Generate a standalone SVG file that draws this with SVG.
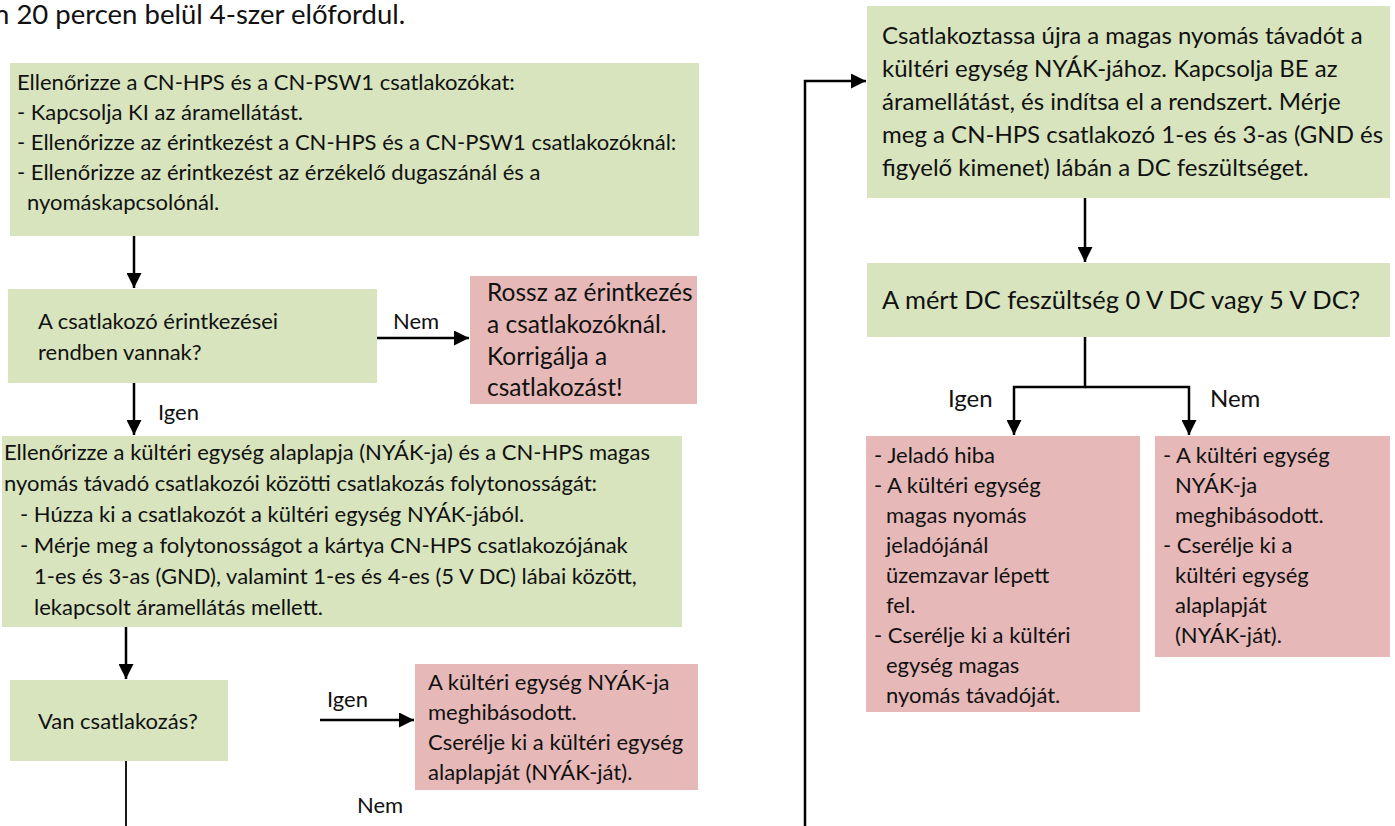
<svg xmlns="http://www.w3.org/2000/svg" width="1395" height="826" viewBox="0 0 1395 826">
  <defs>
    <style>
      .ok { fill: #D7E4BD; }
      .bad { fill: #E6B9B8; }
      text { font-family: Lato, "Liberation Sans", sans-serif; fill: #111; }
      .s { font-size: 22px; }
      .m { font-size: 22px; }
      .r { font-size: 24.5px; }
      .big { font-size: 24px; }
      .q { font-size: 25.5px; }
      .head { font-size: 27.5px; }
      .wire { fill: none; stroke: #000; stroke-width: 2.5; }
      .thin { fill: none; stroke: #000; stroke-width: 1.8; }
    </style>
    <marker id="head" viewBox="0 0 10 10" refX="10" refY="5" markerWidth="6" markerHeight="6" markerUnits="strokeWidth" orient="auto">
      <path d="M0,0 L10,5 L0,10 z" fill="#000"/>
    </marker>
  </defs>

  <rect width="1395" height="826" fill="#fff"/>

  <!-- tail of the preceding paragraph, clipped at the left page edge -->
  <text class="head" x="-6" y="24">n 20 percen belül 4-szer előfordul.</text>

  <g id="check-connectors">
    <rect class="ok" x="10" y="63" width="689" height="173"/>
    <text class="s" x="17" y="90">Ellenőrizze a CN-HPS és a CN-PSW1 csatlakozókat:</text>
    <text class="s" x="17" y="120">- Kapcsolja KI az áramellátást.</text>
    <text class="s" x="17" y="150">- Ellenőrizze az érintkezést a CN-HPS és a CN-PSW1 csatlakozóknál:</text>
    <text class="s" x="17" y="180">- Ellenőrizze az érintkezést az érzékelő dugaszánál és a</text>
    <text class="s" x="27" y="210">nyomáskapcsolónál.</text>
  </g>

  <g id="contacts-ok">
    <rect class="ok" x="8" y="289" width="369" height="94"/>
    <text class="m" x="38" y="329">A csatlakozó érintkezései</text>
    <text class="m" x="38" y="360">rendben vannak?</text>
  </g>

  <g id="bad-contact">
    <rect class="bad" x="470" y="276" width="227" height="128"/>
    <text class="r" x="487" y="301">Rossz az érintkezés</text>
    <text class="r" x="487" y="333">a csatlakozóknál.</text>
    <text class="r" x="487" y="365">Korrigálja a</text>
    <text class="r" x="487" y="396">csatlakozást!</text>
  </g>

  <g id="check-continuity">
    <rect class="ok" x="2" y="436" width="680" height="191"/>
    <text class="s" x="4" y="460">Ellenőrizze a kültéri egység alaplapja (NYÁK-ja) és a CN-HPS magas</text>
    <text class="s" x="4" y="491">nyomás távadó csatlakozói közötti csatlakozás folytonosságát:</text>
    <text class="s" x="20" y="522">- Húzza ki a csatlakozót a kültéri egység NYÁK-jából.</text>
    <text class="s" x="20" y="553">- Mérje meg a folytonosságot a kártya CN-HPS csatlakozójának</text>
    <text class="s" x="34" y="584">1-es és 3-as (GND), valamint 1-es és 4-es (5 V DC) lábai között,</text>
    <text class="s" x="34" y="615">lekapcsolt áramellátás mellett.</text>
  </g>

  <g id="continuity">
    <rect class="ok" x="10" y="680" width="218" height="81"/>
    <text class="m" x="38" y="729">Van csatlakozás?</text>
  </g>

  <g id="pcb-fault">
    <rect class="bad" x="415" y="664" width="283" height="126"/>
    <text class="m" x="428" y="690">A kültéri egység NYÁK-ja</text>
    <text class="m" x="428" y="720">meghibásodott.</text>
    <text class="m" x="428" y="750">Cserélje ki a kültéri egység</text>
    <text class="m" x="428" y="780">alaplapját (NYÁK-ját).</text>
  </g>

  <g id="measure-voltage">
    <rect class="ok" x="867" y="6" width="523" height="192"/>
    <text class="big" x="882" y="44">Csatlakoztassa újra a magas nyomás távadót a</text>
    <text class="big" x="882" y="77">kültéri egység NYÁK-jához. Kapcsolja BE az</text>
    <text class="big" x="882" y="110">áramellátást, és indítsa el a rendszert. Mérje</text>
    <text class="big" x="882" y="143">meg a CN-HPS csatlakozó 1-es és 3-as (GND és</text>
    <text class="big" x="882" y="176">figyelő kimenet) lábán a DC feszültséget.</text>
  </g>

  <g id="voltage-question">
    <rect class="ok" x="867" y="263" width="523" height="74"/>
    <text class="q" x="882" y="309">A mért DC feszültség 0 V DC vagy 5 V DC?</text>
  </g>

  <g id="sensor-fault">
    <rect class="bad" x="866" y="436" width="274" height="276"/>
    <text class="s" x="874" y="463">- Jeladó hiba</text>
    <text class="s" x="874" y="493">- A kültéri egység</text>
    <text class="s" x="886" y="523">magas nyomás</text>
    <text class="s" x="886" y="553">jeladójánál</text>
    <text class="s" x="886" y="583">üzemzavar lépett</text>
    <text class="s" x="886" y="613">fel.</text>
    <text class="s" x="874" y="643">- Cserélje ki a kültéri</text>
    <text class="s" x="886" y="673">egység magas</text>
    <text class="s" x="886" y="703">nyomás távadóját.</text>
  </g>

  <g id="board-fault">
    <rect class="bad" x="1155" y="436" width="235" height="221"/>
    <text class="s" x="1163" y="463">- A kültéri egység</text>
    <text class="s" x="1175" y="493">NYÁK-ja</text>
    <text class="s" x="1175" y="523">meghibásodott.</text>
    <text class="s" x="1163" y="553">- Cserélje ki a</text>
    <text class="s" x="1175" y="583">kültéri egység</text>
    <text class="s" x="1175" y="613">alaplapját</text>
    <text class="s" x="1175" y="643">(NYÁK-ját).</text>
  </g>

  <g id="connectors">
    <line class="wire" x1="134" y1="236" x2="134" y2="288" marker-end="url(#head)"/>
    <line class="wire" x1="377" y1="338" x2="469" y2="338" marker-end="url(#head)"/>
    <line class="wire" x1="134" y1="383" x2="134" y2="435" marker-end="url(#head)"/>
    <line class="wire" x1="126" y1="627" x2="126" y2="679" marker-end="url(#head)"/>
    <line class="wire" x1="320" y1="720" x2="414" y2="720" marker-end="url(#head)"/>
    <line class="thin" x1="126" y1="761" x2="126" y2="826"/>
    <polyline class="wire" points="805,826 805,81 866,81" marker-end="url(#head)"/>
    <line class="wire" x1="1085" y1="198" x2="1085" y2="262" marker-end="url(#head)"/>
    <polyline class="wire" points="1085,337 1085,387 1014,387 1014,435" marker-end="url(#head)"/>
    <polyline class="wire" points="1085,387 1189,387 1189,435" marker-end="url(#head)"/>
    <text class="m" x="393" y="329">Nem</text>
    <text class="m" x="158" y="420">Igen</text>
    <text class="m" x="327" y="707">Igen</text>
    <text class="m" x="357" y="813">Nem</text>
    <text class="big" x="948" y="407">Igen</text>
    <text class="big" x="1210" y="407">Nem</text>
  </g>
</svg>
